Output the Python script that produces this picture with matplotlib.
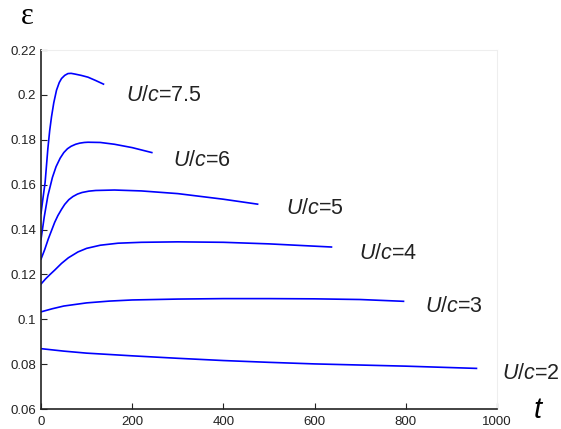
import numpy as np
import matplotlib
matplotlib.use("Agg")
import matplotlib.pyplot as plt
from matplotlib.ticker import FormatStrFormatter

# values
t2 = [0, 50, 100, 200, 300, 400, 500, 600, 700, 800, 955]
e2 = [0.0869, 0.0858, 0.0849, 0.0837, 0.0826, 0.0816, 0.0808, 0.0801, 0.0796, 0.0791, 0.0781]

t3 = [0, 25, 50, 100, 150, 200, 300, 400, 500, 600, 700, 795]
e3 = [0.1033, 0.1047, 0.1059, 0.1073, 0.1081, 0.1086, 0.1090, 0.1092, 0.1092, 0.1091, 0.1088, 0.1080]

t4 = [0, 10, 20, 30, 45, 60, 81, 100, 130, 169, 220, 300, 400, 500, 637]
e4 = [0.1157, 0.1180, 0.1200, 0.1219, 0.1249, 0.1274, 0.1300, 0.1316, 0.1330, 0.1339, 0.1343, 0.1345, 0.1343, 0.1336, 0.1322]

t5 = [0, 8, 16, 23, 30, 37, 45, 52, 61, 70, 80, 90, 105, 120, 161, 220, 300, 400, 475]
e5 = [0.1268, 0.1310, 0.1358, 0.1395, 0.1432, 0.1462, 0.1490, 0.1512, 0.1533, 0.1547, 0.1558, 0.1565, 0.1571, 0.1574, 0.1576, 0.1572, 0.1560, 0.1535, 0.1513]

t6 = [0, 7, 15, 25, 33, 42, 50, 58, 66, 76, 85, 95, 103, 130, 161, 200, 243]
e6 = [0.1356, 0.1455, 0.1550, 0.1632, 0.1680, 0.1718, 0.1743, 0.1760, 0.1771, 0.1780, 0.1785, 0.1788, 0.1789, 0.1788, 0.1780, 0.1765, 0.1743]

t75 = [0, 4, 9, 15, 19, 23, 28, 34, 40, 45, 52, 59, 66, 74, 88, 103, 120, 137]
e75 = [0.1472, 0.1535, 0.1610, 0.1760, 0.1840, 0.1902, 0.1965, 0.2021, 0.2055, 0.2073, 0.2087, 0.2095, 0.2096, 0.2093, 0.2087, 0.2079, 0.2064, 0.2048]

labels = ["7.5", "6", "5", "4", "3", "2"]
label_x = [186, 290, 537, 697, 842, 1010]
label_y = [0.1999, 0.1706, 0.1494, 0.1294, 0.1056, 0.0759]

plt.rcParams['font.family'] = ['Liberation Sans', 'DejaVu Sans']
plt.rcParams['mathtext.fontset'] = 'custom'
plt.rcParams['mathtext.it'] = 'Liberation Sans:italic'
plt.rcParams['mathtext.rm'] = 'Liberation Sans'

fig = plt.figure(figsize=(5.61, 4.29), dpi=100)
ax = fig.add_axes([0.0731, 0.0466, 0.8128, 0.8368])

for t, e in [(t2, e2), (t3, e3), (t4, e4), (t5, e5), (t6, e6), (t75, e75)]:
    ax.plot(t, e, color='#0000ff', lw=1.2)

for lab, x, y in zip(labels, label_x, label_y):
    ax.text(x, y, r"$U$/$c$=" + lab, fontsize=15.5, va='center',
            ha='left', color='#222222', clip_on=False)

ax.set_xlim(0, 1000)
ax.set_ylim(0.06, 0.22)
ax.set_xticks(np.arange(0, 1001, 200))
ax.set_yticks(np.arange(0.06, 0.2201, 0.02))
ax.yaxis.set_major_formatter(FormatStrFormatter('%g'))
ax.tick_params(direction='in', length=4, labelsize=9.5, colors='#222222')
ax.tick_params(axis='x', pad=5)
for s in ['top', 'right']:
    ax.spines[s].set_color('#eeeeee')
for s in ['left', 'bottom']:
    ax.spines[s].set_linewidth(1.2)
    ax.spines[s].set_color('#222222')

fig.text(538 / 561, 1 - 410 / 429, "t", fontsize=21, style='italic', ha='center', va='center')
fig.text(27 / 561, 1 - 17 / 429, "ε", fontsize=22, family='Liberation Serif', ha='center', va='center')

fig.savefig("out.png", dpi=100)
